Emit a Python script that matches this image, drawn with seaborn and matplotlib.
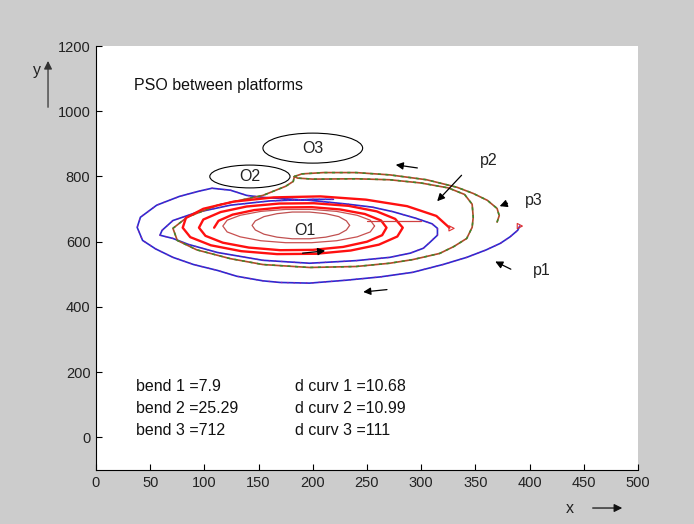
import matplotlib
matplotlib.use("Agg")
import matplotlib.pyplot as plt
import seaborn as sns
from matplotlib.patches import Ellipse, FancyArrowPatch

# ---------------- data ----------------
# p1 : outer blue trajectory
p1_x = [391, 389, 382, 373, 360, 342, 320, 292, 262, 231, 197, 170, 154, 130, 112, 90, 71, 55, 43, 38,
        41, 56, 77, 95, 107, 124, 139, 154, 197, 230, 255, 274, 295, 310, 315, 315, 308, 302, 290, 271,
        240, 197, 154, 112, 85, 71, 59, 61, 71, 93, 124, 160, 200, 219]
p1_y = [648, 635, 615, 595, 575, 552, 530, 506, 492, 482, 473, 475, 480, 494, 512, 530, 552, 578, 604, 644,
        675, 712, 739, 755, 764, 758, 742, 736, 727, 716, 706, 692, 672, 655, 641, 620, 598, 580, 565, 552,
        542, 534, 543, 567, 592, 610, 620, 635, 665, 690, 712, 725, 730, 730]

# p3 : brown / green trajectory
p3_x = [370, 372, 370, 361, 348, 333, 305, 271, 240, 210, 190, 183, 186, 200, 240, 271, 300, 325, 340, 347,
        348, 347, 342, 330, 317, 292, 271, 240, 197, 154, 124, 93, 75, 71, 84, 112, 154, 175, 182, 183]
p3_y = [660, 680, 702, 727, 748, 767, 790, 805, 812, 812, 808, 800, 795, 792, 793, 790, 780, 765, 745, 715,
        675, 644, 610, 585, 564, 545, 534, 524, 521, 530, 548, 575, 604, 641, 675, 712, 742, 770, 785, 800]

# p2 : red spiral (inside -> outside, ends at the right)
p2_x = [109, 113, 126, 146, 171, 199, 225, 248, 263, 268, 264, 250, 228, 200, 170, 141, 117, 101, 95, 99,
        115, 139, 169, 201, 233, 259, 276, 283, 278, 261, 235, 203, 167, 134, 106, 87, 80, 83, 99, 127,
        164, 207, 249, 287, 314, 326]
p2_y = [643, 664, 683, 697, 705, 706, 699, 685, 665, 643, 620, 600, 584, 575, 574, 582, 597, 618, 643, 668,
        691, 708, 717, 718, 710, 693, 670, 643, 616, 591, 573, 563, 562, 571, 589, 614, 643, 673, 701, 723,
        736, 739, 729, 709, 679, 643]
p2_line_x = [250, 300]
p2_line_y = [662, 662]

# thin dark red loops around O1
o1_loop_x = [234, 231, 224, 212, 197, 181, 167, 155, 147, 144, 147, 155, 167, 181, 197, 212, 224, 231, 234]
o1_loop_y = [650, 664, 677, 686, 691, 691, 686, 677, 664, 650, 636, 623, 614, 609, 609, 614, 623, 636, 650]
mid_loop_x = [257, 253, 241, 222, 199, 175, 152, 133, 121, 117, 121, 133, 152, 175, 199, 222, 241, 253, 257]
mid_loop_y = [648, 666, 681, 693, 699, 699, 693, 681, 666, 648, 630, 615, 603, 597, 597, 603, 615, 630, 648]

# obstacles: name, centre x, centre y, half width, half height
obs_names = ["O1", "O2", "O3"]
obs_cx = [193, 142, 200]
obs_cy = [635, 800, 887]
obs_rx = [0, 37, 46]
obs_ry = [0, 35, 46]

# direction arrows (tail -> head)
arr_tail_x = [271, 188, 299]
arr_tail_y = [454, 564, 825]
arr_head_x = [244, 214, 274]
arr_head_y = [445, 573, 837]

# path labels and their pointer arrows
lab_names = ["p1", "p2", "p3"]
lab_x = [403, 354, 396]
lab_y = [512, 850, 727]
lab_tail_x = [385, 339, 382]
lab_tail_y = [512, 810, 721]
lab_head_x = [366, 313, 370]
lab_head_y = [543, 718, 706]

end_x = [391, 328]
end_y = [648, 641]

info_left = ["bend 1 =7.9", "bend 2 =25.29", "bend 3 =712"]
info_right = ["d curv 1 =10.68", "d curv 2 =10.99", "d curv 3 =111"]
info_y = [156, 89, 21]

x_ticks = [0, 50, 100, 150, 200, 250, 300, 350, 400, 450, 500]
y_ticks = [0, 200, 400, 600, 800, 1000, 1200]

# ---------------- drawing ----------------
sns.set_theme(style="white")
plt.rcParams["font.family"] = ["Liberation Sans", "DejaVu Sans"]

fig = plt.figure(figsize=(6.94, 5.24), dpi=100, facecolor="#cccccc")
ax = fig.add_axes([0.1383, 0.1031, 0.781, 0.809])
ax.set_facecolor("white")

TXT = 11.5


def draw(xs, ys, color, lw, ls="-"):
    sns.lineplot(x=xs, y=ys, sort=False, estimator=None, color=color, lw=lw,
                 linestyle=ls, ax=ax, legend=False)


draw(p1_x, p1_y, "#2a2ad0", 1.2)
draw(p1_x, p1_y, "#9a1aa8", 0.9, (0, (1, 4)))
draw(p3_x, p3_y, "#b04a2a", 1.2)
draw(p3_x, p3_y, "#3a8a2a", 1.1, (0, (2, 3)))
draw(mid_loop_x, mid_loop_y, "#c85050", 0.9)
draw(o1_loop_x, o1_loop_y, "#c05050", 0.9)
draw(p2_x, p2_y, "#ff1010", 1.7)
draw(p2_line_x, p2_line_y, "#d04040", 0.9)
ax.scatter(end_x, end_y, marker=">", s=14, facecolor="none", edgecolor="#e03030", lw=0.8, zorder=5)

for n, cx, cy, rx, ry in zip(obs_names, obs_cx, obs_cy, obs_rx, obs_ry):
    if rx > 0:
        ax.add_patch(Ellipse((cx, cy), 2 * rx, 2 * ry, fill=False, ec="black", lw=0.8, zorder=4))
    ax.text(cx, cy, n, ha="center", va="center", fontsize=TXT, color="#222222", zorder=6)

for tx, ty, hx, hy in zip(arr_tail_x, arr_tail_y, arr_head_x, arr_head_y):
    ax.annotate("", xy=(hx, hy), xytext=(tx, ty),
                arrowprops=dict(arrowstyle="-|>", color="black", lw=0.9, mutation_scale=11))

for n, lx, ly, tx, ty, hx, hy in zip(lab_names, lab_x, lab_y, lab_tail_x, lab_tail_y, lab_head_x, lab_head_y):
    ax.text(lx, ly, n, ha="left", va="center", fontsize=TXT, color="#222222")
    ax.annotate("", xy=(hx, hy), xytext=(tx, ty),
                arrowprops=dict(arrowstyle="-|>", color="black", lw=0.9, mutation_scale=11))

ax.text(35, 1080, "PSO between platforms", ha="left", va="center", fontsize=TXT, color="#111111")
for a, b, yy in zip(info_left, info_right, info_y):
    ax.text(37, yy, a, ha="left", va="center", fontsize=TXT, color="#111111")
    ax.text(184, yy, b, ha="left", va="center", fontsize=TXT, color="#111111")

ax.set_xlim(0, 500)
ax.set_ylim(-100, 1200)
ax.set_xticks(x_ticks)
ax.set_yticks(y_ticks)
ax.set_xlabel("")
ax.set_ylabel("")
for s in ["top", "right"]:
    ax.spines[s].set_visible(False)
for s in ["left", "bottom"]:
    ax.spines[s].set_color("black")
    ax.spines[s].set_linewidth(0.8)
ax.tick_params(direction="in", length=4, width=0.8, colors="black", labelsize=10.5,
               left=True, bottom=True, pad=4)
for lab in ax.get_xticklabels() + ax.get_yticklabels():
    lab.set_color("#222222")

# axis name arrows outside the axes
fig.text(0.0533, 0.866, "y", ha="center", va="center", fontsize=TXT, color="#222222")
fig.patches.append(FancyArrowPatch((0.0692, 0.790), (0.0692, 0.889), transform=fig.transFigure,
                                   arrowstyle="-|>", mutation_scale=12, color="#333333", lw=0.9))
fig.text(0.821, 0.0305, "x", ha="center", va="center", fontsize=TXT, color="#222222")
fig.patches.append(FancyArrowPatch((0.850, 0.0305), (0.9006, 0.0305), transform=fig.transFigure,
                                   arrowstyle="-|>", mutation_scale=12, color="#111111", lw=0.9))

fig.savefig("out.png", dpi=100, facecolor=fig.get_facecolor())
